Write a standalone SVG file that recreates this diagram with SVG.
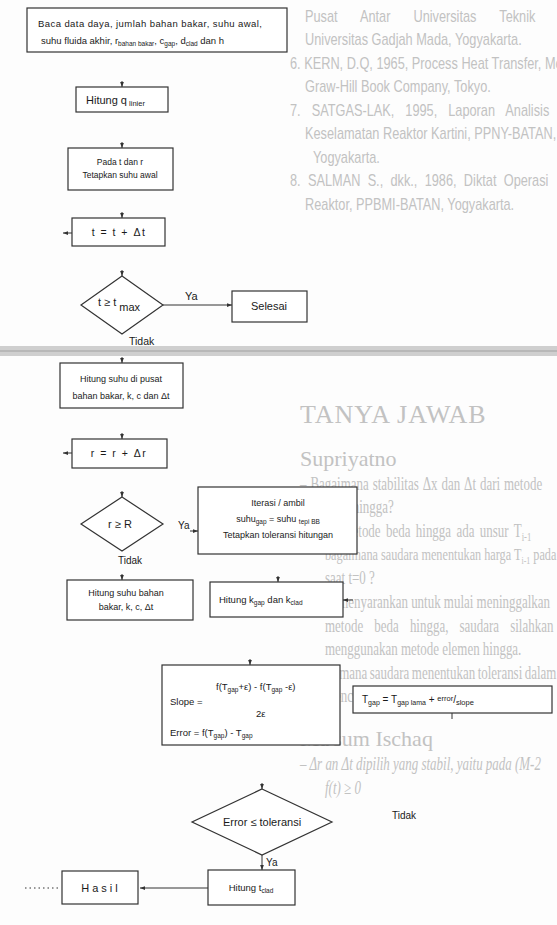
<svg xmlns="http://www.w3.org/2000/svg" width="557" height="925" viewBox="0 0 557 925">
<style>
.bg{font-family:"Liberation Sans",Arial,sans-serif;font-size:17px;fill:#c2c2c2}
.bs{font-family:"Liberation Serif","Times New Roman",serif;font-size:18px;fill:#c2c2c2}
.box{fill:#fff;stroke:#333;stroke-width:1.2}
.t{font-family:"Liberation Sans",Arial,sans-serif;fill:#1a1a1a}
.c{stroke:#333;stroke-width:1;fill:none}
</style>
<defs>
<marker id="ah" viewBox="0 0 8 8" refX="8" refY="4" markerWidth="5" markerHeight="5" orient="auto"><path d="M0,1 L8,4 L0,7 z" fill="#333"/></marker>
</defs>
<rect width="557" height="925" fill="#fdfdfd"/>
<g id="page-text">
<g transform="scale(0.75,1)">
<text class="bg" x="406.7" y="22" word-spacing="26">Pusat Antar Universitas Teknik</text>
<text class="bg" x="406.7" y="45">Universitas Gadjah Mada, Yogyakarta.</text>
<text class="bg" x="386.7" y="69">6. KERN, D.Q, 1965, Process Heat Transfer, Mc</text>
<text class="bg" x="406.7" y="92">Graw-Hill Book Company, Tokyo.</text>
<text class="bg" x="386.7" y="116" word-spacing="10">7. SATGAS-LAK, 1995, Laporan Analisis</text>
<text class="bg" x="406.7" y="139">Keselamatan Reaktor Kartini, PPNY-BATAN,</text>
<text class="bg" x="417.3" y="163">Yogyakarta.</text>
<text class="bg" x="386.7" y="186" word-spacing="5">8. SALMAN S., dkk., 1986, Diktat Operasi</text>
<text class="bg" x="406.7" y="210">Reaktor, PPBMI-BATAN, Yogyakarta.</text>
</g>
<text class="bs" x="300" y="423" style="font-size:26px" letter-spacing="1">TANYA JAWAB</text>
<text class="bs" x="300" y="466" style="font-size:22px">Supriyatno</text>
<text class="bs" x="300" y="746" style="font-size:22px">Ma'sum Ischaq</text>
<g transform="scale(0.72,1)">
<text class="bs" x="416.7" y="490" word-spacing="1">– Bagaimana stabilitas Δx dan Δt dari metode</text>
<text class="bs" x="451.4" y="513">beda hingga?</text>
<text class="bs" x="416.7" y="537" word-spacing="3">– Pada metode beda hingga ada unsur T<tspan style="font-size:12px" dy="4">i-1</tspan></text>
<text class="bs" x="451.4" y="560" style="font-size:17px">bagaimana saudara menentukan harga T<tspan style="font-size:11px" dy="4">i-1</tspan><tspan dy="-4"> pada</tspan></text>
<text class="bs" x="451.4" y="584">saat t=0 ?</text>
<text class="bs" x="416.7" y="608">– Saya menyarankan untuk mulai meninggalkan</text>
<text class="bs" x="451.4" y="632" word-spacing="11">metode beda hingga, saudara silahkan</text>
<text class="bs" x="451.4" y="655">menggunakan metode elemen hingga.</text>
<text class="bs" x="416.7" y="679" word-spacing="-1">– Bagaimana saudara menentukan toleransi dalam</text>
<text class="bs" x="451.4" y="702">mencari besaran error?</text>
<text class="bs" x="416.7" y="770" font-style="italic">– Δr an Δt dipilih yang stabil, yaitu pada (M-2</text>
<text class="bs" x="451.4" y="794" font-style="italic">f(t) ≥ 0</text>
</g>
</g>
<rect x="0" y="346" width="557" height="10" fill="#cfcfcf"/>
<line x1="0" y1="351" x2="557" y2="351" stroke="#b0b0b0" stroke-width="1.5"/>
<g id="connectors">
<line class="c" x1="122" y1="81" x2="122" y2="87" marker-end="url(#ah)"/>
<line class="c" x1="122" y1="142" x2="122" y2="148" marker-end="url(#ah)"/>
<line class="c" x1="122" y1="212" x2="122" y2="218" marker-end="url(#ah)"/>
<line class="c" x1="80" y1="233" x2="63" y2="233" marker-end="url(#ah)"/>
<line class="c" x1="122" y1="270" x2="122" y2="276" marker-end="url(#ah)"/>
<line class="c" x1="163" y1="305" x2="232" y2="305" marker-end="url(#ah)"/>
<line class="c" x1="122" y1="357" x2="122" y2="363" marker-end="url(#ah)"/>
<line class="c" x1="122" y1="433" x2="122" y2="439" marker-end="url(#ah)"/>
<line class="c" x1="80" y1="453" x2="63" y2="453" marker-end="url(#ah)"/>
<line class="c" x1="122" y1="491" x2="122" y2="497" marker-end="url(#ah)"/>
<line class="c" x1="190" y1="531" x2="198" y2="531" marker-end="url(#ah)"/>
<line class="c" x1="122" y1="574" x2="122" y2="580" marker-end="url(#ah)"/>
<line class="c" x1="278" y1="576" x2="278" y2="582" marker-end="url(#ah)"/>
<line class="c" x1="353" y1="600" x2="343" y2="600" marker-end="url(#ah)"/>
<line class="c" x1="250" y1="659" x2="250" y2="665" marker-end="url(#ah)"/>
<line class="c" x1="452" y1="713" x2="452" y2="719"/>
<line class="c" x1="262" y1="783" x2="262" y2="789" marker-end="url(#ah)"/>
<line class="c" x1="262" y1="855" x2="262" y2="870" marker-end="url(#ah)"/>
<line class="c" x1="208" y1="888" x2="140" y2="888" marker-end="url(#ah)"/>
<line class="c" x1="25" y1="888" x2="60" y2="888" stroke-dasharray="1.5 3"/>
</g>
<g id="n-baca">
<rect class="box" x="27" y="8" width="260" height="44"/>
<text class="t" x="38" y="27" style="font-size:9.5px" textLength="224" lengthAdjust="spacing">Baca  data daya, jumlah bahan bakar, suhu awal,</text>
<text class="t" x="41" y="44" style="font-size:9.5px">suhu fluida akhir, r<tspan style="font-size:6.5px" dy="2">bahan bakar</tspan><tspan dy="-2">, c</tspan><tspan style="font-size:6.5px" dy="2">gap</tspan><tspan dy="-2">, d</tspan><tspan style="font-size:6.5px" dy="2">clad</tspan><tspan dy="-2"> dan h</tspan></text>
</g>
<g id="n-qlinier">
<rect class="box" x="76" y="87" width="92" height="25"/>
<text class="t" x="86" y="104" style="font-size:11px">Hitung q<tspan style="font-size:7.5px" dy="2"> linier</tspan></text>
</g>
<g id="n-pada">
<rect class="box" x="68" y="148" width="105" height="42"/>
<text class="t" x="120" y="165" text-anchor="middle" style="font-size:8.5px">Pada t dan r</text>
<text class="t" x="120" y="178" text-anchor="middle" style="font-size:8.5px">Tetapkan suhu awal</text>
</g>
<g id="n-t">
<rect class="box" x="72" y="218" width="93" height="28"/>
<text class="t" x="119" y="236" text-anchor="middle" style="font-size:10.5px" letter-spacing="1.5">t = t + Δt</text>
</g>
<g id="d-tmax">
<polygon class="box" points="122,276 163,305 122,334 81,305"/>
<text class="t" x="98" y="306" style="font-size:11px">t ≥ t<tspan dy="5"> max</tspan></text>
<text class="t" x="185" y="300" style="font-size:11px">Ya</text>
<text class="t" x="129" y="345" style="font-size:10.5px">Tidak</text>
</g>
<g id="n-selesai">
<rect class="box" x="232" y="291" width="75" height="31"/>
<text class="t" x="269" y="310" text-anchor="middle" style="font-size:11px">Selesai</text>
</g>
<g id="n-pusat">
<rect class="box" x="60" y="363" width="123" height="45"/>
<text class="t" x="121" y="382" text-anchor="middle" style="font-size:9px">Hitung  suhu di pusat</text>
<text class="t" x="121" y="399" text-anchor="middle" style="font-size:9px">bahan bakar, k, c dan Δt</text>
</g>
<g id="n-r">
<rect class="box" x="72" y="439" width="95" height="29"/>
<text class="t" x="119" y="457" text-anchor="middle" style="font-size:10.5px" letter-spacing="1.5">r = r + Δr</text>
</g>
<g id="d-rR">
<polygon class="box" points="122,497 163,524 122,551 81,524"/>
<text class="t" x="120" y="528" text-anchor="middle" style="font-size:11px">r ≥ R</text>
<text class="t" x="178" y="529" style="font-size:10px">Ya</text>
<text class="t" x="118" y="564" style="font-size:10px">Tidak</text>
</g>
<g id="n-iterasi">
<rect class="box" x="198" y="487" width="159" height="67"/>
<text class="t" x="278" y="506" text-anchor="middle" style="font-size:9px">Iterasi  /  ambil</text>
<text class="t" x="278" y="522" text-anchor="middle" style="font-size:9px">suhu<tspan style="font-size:6.5px" dy="2">gap</tspan><tspan dy="-2"> = suhu </tspan><tspan style="font-size:6.5px" dy="2">tepi BB</tspan></text>
<text class="t" x="278" y="538" text-anchor="middle" style="font-size:9px">Tetapkan toleransi hitungan</text>
</g>
<g id="n-bahan">
<rect class="box" x="67" y="580" width="126" height="40"/>
<text class="t" x="126" y="596" text-anchor="middle" style="font-size:9px">Hitung  suhu bahan</text>
<text class="t" x="126" y="610" text-anchor="middle" style="font-size:9px">bakar, k, c, Δt</text>
</g>
<g id="n-kgap">
<rect class="box" x="210" y="582" width="133" height="35"/>
<text class="t" x="219" y="603" style="font-size:9.5px">Hitung k<tspan style="font-size:6.5px" dy="2">gap</tspan><tspan dy="-2"> dan k</tspan><tspan style="font-size:6.5px" dy="2">clad</tspan></text>
</g>
<g id="n-slope">
<rect class="box" x="162" y="665" width="178" height="80"/>
<text class="t" x="216" y="690" style="font-size:9.5px">f(T<tspan style="font-size:6.5px" dy="2">gap</tspan><tspan dy="-2">+ε) - f(T</tspan><tspan style="font-size:6.5px" dy="2">gap</tspan><tspan dy="-2"> -ε)</tspan></text>
<text class="t" x="170" y="705" style="font-size:9.5px">Slope =</text>
<text class="t" x="256" y="717" style="font-size:9.5px">2ε</text>
<text class="t" x="170" y="736" style="font-size:9.5px">Error = f(T<tspan style="font-size:6.5px" dy="2">gap</tspan><tspan dy="-2">) - T</tspan><tspan style="font-size:6.5px" dy="2">gap</tspan></text>
</g>
<g id="n-tgap">
<rect class="box" x="353" y="686" width="199" height="27"/>
<text class="t" x="362" y="703" style="font-size:10px">T<tspan style="font-size:7px" dy="2">gap</tspan><tspan dy="-2"> = T</tspan><tspan style="font-size:7px" dy="2">gap lama</tspan><tspan dy="-2"> + </tspan><tspan style="font-size:7.5px" dy="-2">error</tspan><tspan dy="2">/</tspan><tspan style="font-size:7.5px" dy="2">slope</tspan></text>
</g>
<g id="d-error">
<polygon class="box" points="262,789 332,822 262,855 192,822"/>
<text class="t" x="262" y="826" text-anchor="middle" style="font-size:11px">Error ≤ toleransi</text>
<text class="t" x="392" y="819" style="font-size:10px">Tidak</text>
<text class="t" x="266" y="866" style="font-size:10px">Ya</text>
</g>
<g id="n-tclad">
<rect class="box" x="208" y="870" width="87" height="35"/>
<text class="t" x="251" y="891" text-anchor="middle" style="font-size:9.5px">Hitung t<tspan style="font-size:6.5px" dy="2">clad</tspan></text>
</g>
<g id="n-hasil">
<rect class="box" x="62" y="871" width="76" height="33"/>
<text class="t" x="101" y="892" text-anchor="middle" style="font-size:11px" letter-spacing="3">Hasil</text>
</g>
</svg>
